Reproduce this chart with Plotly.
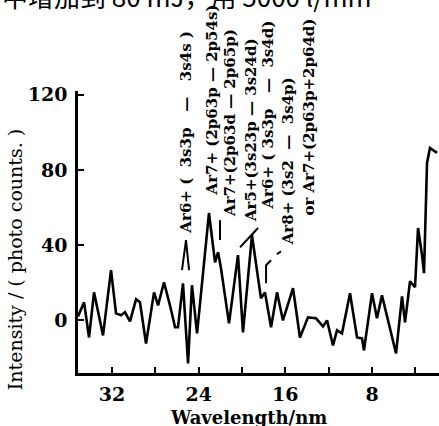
import plotly.graph_objects as go

# Spectrum (wavelength in nm, intensity in photo counts)
wavelength = [35.14, 34.58, 34.12, 33.66, 32.83, 32.09, 31.63, 31.17, 30.80, 30.34,
              29.78, 29.42, 28.86, 28.12, 27.75, 27.20, 26.65, 26.18, 25.91, 25.45,
              24.98, 24.62, 24.15, 23.05, 22.49, 22.21, 21.94, 21.20, 20.37, 19.91,
              19.08, 18.25, 17.88, 17.32, 16.77, 16.22, 15.29, 14.65, 13.91, 13.17,
              12.52, 12.15, 11.60, 11.23, 10.77, 10.03, 9.38, 8.92, 8.74, 8.00,
              7.54, 7.08, 5.78, 5.23, 4.95, 4.49, 4.03, 3.75, 3.38, 3.20,
              2.92, 2.65, 2.00]
intensity = [2.1, 9.6, -9.1, 14.9, -8.0, 26.7, 3.7, 2.7, 4.3, -0.5,
             11.2, 9.6, -12.3, 14.9, 8.0, 20.3, 8.0, -3.7, -3.7, 19.7,
             -22.9, 18.7, -6.9, 57.1, 30.9, 36.3, 27.7, -1.6, 34.7, -6.4,
             45.3, 11.7, 14.9, -3.7, 14.9, 0.0, 17.1, -9.1, 1.6, 1.1,
             -3.2, 0.0, -13.3, -5.3, -6.9, 14.4, -9.1, -9.6, -16.0, 14.4,
             1.1, 13.3, -17.6, 12.8, -1.1, 20.8, 17.6, 49.1, 34.7, 25.1,
             83.7, 91.7, 89.1]

x_tick_vals = [32, 28, 24, 20, 16, 12, 8, 4]
x_tick_text = ["32", "", "24", "", "16", "", "8", ""]
y_tick_vals = [0, 40, 80, 120]
y_tick_text = ["0", "40", "80", "120"]

S = "\u00a0"
# Line identification labels (vertical text) and their anchor points
line_labels = ["Ar6+" + S + "(" + S * 2 + "3s3p" + S * 3 + "—" + S * 3 + "3s4s" + S + ")",
               "Ar7+ (2p63p — 2p54s)",
               "Ar7+(2p63d — 2p65p)",
               "Ar5+(3s23p — 3s24d)",
               "Ar6+" + S + "(" + S + "3s3p" + S * 3 + "—" + S * 2 + "3s4d)",
               "Ar8+" + S + "(3s2" + S * 2 + "—" + S * 2 + "3s4p)",
               "or Ar7+(2p63p+2p64d)"]
label_x = [25.17, 22.77, 21.11, 19.17, 17.60, 15.75, 13.82]
label_y = [44.8, 65.1, 53.9, 51.2, 57.6, 38.9, 54.9]

# Small pointer strokes under the labels
pointer_x = [25.54, 25.17, 24.89, None, 22.03, 22.03, None, 20.18, 18.52, None,
             17.78, 17.78, 17.32, None, 16.77, 16.40]
pointer_y = [26.7, 42.7, 26.7, None, 53.3, 42.7, None, 38.9, 49.1, None,
             19.7, 29.3, 32.0, None, 35.2, 36.8]

page_text = "中增加到 80 mJ，用 5000 l/mm"

fig = go.Figure()
fig.add_trace(go.Scatter(x=wavelength, y=intensity, mode="lines",
                         line=dict(color="black", width=2.6), hoverinfo="skip",
                         showlegend=False))
fig.add_trace(go.Scatter(x=pointer_x, y=pointer_y, mode="lines",
                         line=dict(color="black", width=2), hoverinfo="skip",
                         showlegend=False, connectgaps=False))

annotations = []
for t, x, y in zip(line_labels, label_x, label_y):
    annotations.append(dict(x=x, y=y, xref="x", yref="y", text=t, showarrow=False,
                            textangle=-90, xanchor="center", yanchor="bottom",
                            font=dict(family="DejaVu Serif", size=15, color="black",
                                      weight="bold")))
annotations.append(dict(x=-0.1745, y=0.40, xref="paper", yref="paper",
                        text="Intensity / ( photo counts. )", showarrow=False,
                        textangle=-90, xanchor="center", yanchor="middle",
                        font=dict(family="DejaVu Serif", size=19, color="black")))
annotations.append(dict(x=0.471, y=-0.112, xref="paper", yref="paper",
                        text="Wavelength/nm", showarrow=False,
                        xanchor="center", yanchor="top",
                        font=dict(family="DejaVu Serif", size=18, color="black",
                                  weight="bold")))
annotations.append(dict(x=-0.215, y=1.265, xref="paper", yref="paper",
                        text=page_text, showarrow=False,
                        xanchor="left", yanchor="bottom",
                        font=dict(family="Noto Sans CJK SC", size=26, color="black")))

fig.update_layout(
    width=439, height=426,
    margin=dict(l=78, r=0, t=91, b=53),
    paper_bgcolor="white", plot_bgcolor="white",
    showlegend=False,
    annotations=annotations,
    xaxis=dict(range=[35.14, 1.815], tickvals=x_tick_vals, ticktext=x_tick_text,
               ticks="inside", ticklen=6, tickwidth=2, tickcolor="black",
               showline=True, linecolor="black", linewidth=2.5,
               showgrid=False, zeroline=False, ticklabelstandoff=2,
               tickfont=dict(family="DejaVu Serif", size=19, color="black",
                             weight="bold")),
    yaxis=dict(range=[-28, 122], tickvals=y_tick_vals, ticktext=y_tick_text,
               ticks="inside", ticklen=6, tickwidth=2, tickcolor="black",
               showline=True, linecolor="black", linewidth=2.5,
               showgrid=False, zeroline=False, ticklabelstandoff=4,
               tickfont=dict(family="DejaVu Serif", size=19, color="black",
                             weight="bold")),
)

fig.write_html("out.html", config={"displayModeBar": False},
               post_script="document.body.style.margin='0';"
                           "document.body.style.overflow='hidden';")
